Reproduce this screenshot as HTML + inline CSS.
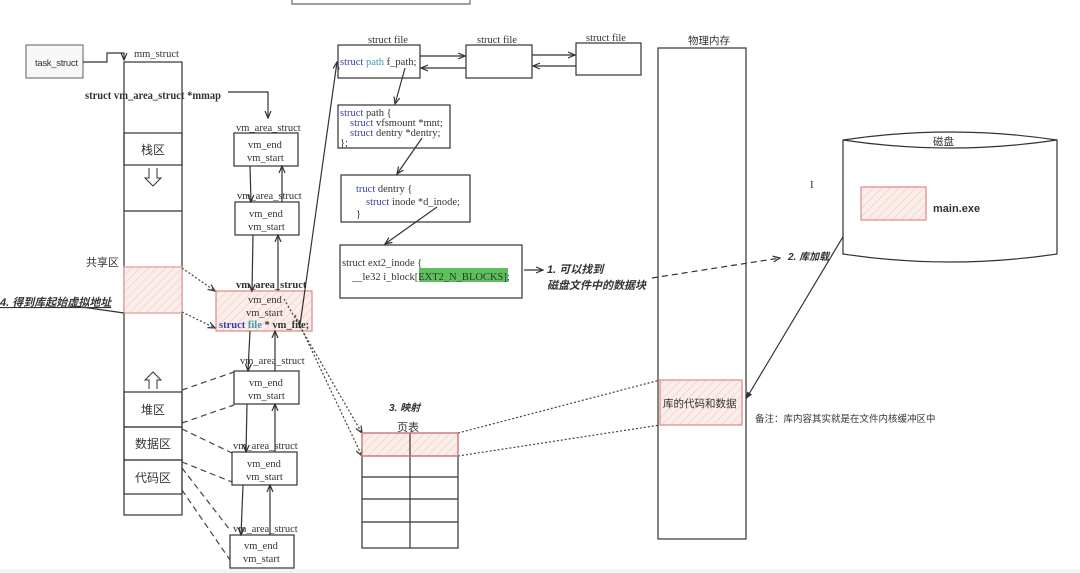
<!DOCTYPE html>
<html><head><meta charset="utf-8"><style>
html,body{margin:0;padding:0;background:#fff;width:1080px;height:573px;overflow:hidden}
svg text{font-family:"Liberation Serif","Noto Serif CJK SC",serif;fill:#333}
.cn{font-family:"Liberation Sans","Noto Sans CJK SC",sans-serif}
.kw{fill:#3b3fa8}
.ty{fill:#3a9bb0}
</style></head><body>
<svg width="1080" height="573" viewBox="0 0 1080 573" xmlns="http://www.w3.org/2000/svg">
<defs>
<pattern id="h" width="6" height="6" patternUnits="userSpaceOnUse" patternTransform="rotate(45)">
<rect width="6" height="6" fill="#fbeeea"/><line x1="0" y1="0" x2="0" y2="6" stroke="#f3d6d0" stroke-width="2"/></pattern>
<marker id="a" markerWidth="8" markerHeight="8" refX="7" refY="4" orient="auto" markerUnits="userSpaceOnUse"><path d="M0,1 L7,4 L0,7" fill="none" stroke="#333" stroke-width="1.2"/></marker>
<marker id="af" markerWidth="8" markerHeight="8" refX="7" refY="4" orient="auto" markerUnits="userSpaceOnUse"><path d="M0,1 L7,4 L0,7z" fill="#333"/></marker>
</defs>
<rect x="0" y="569" width="1080" height="4" fill="#f3f3f3"/>
<path d="M292,0 L292,4 L470,4 L470,0" fill="none" stroke="#666" stroke-width="1.2"/>
<g fill="none" stroke="#333" stroke-width="1.2">
<rect x="26" y="45" width="57" height="33" fill="#f7f7f7" stroke="#777"/>
<path d="M83,62 L107,62 L107,53 L124,53 L124,60" marker-end="url(#a)"/>
<rect x="124" y="62" width="58" height="453"/>
<rect x="124" y="133" width="58" height="32"/>
<line x1="124" y1="211" x2="182" y2="211"/>
<rect x="124" y="267" width="58" height="46" fill="url(#h)" stroke="#d99"/>
<rect x="124" y="392" width="58" height="35"/>
<rect x="124" y="427" width="58" height="33"/>
<rect x="124" y="460" width="58" height="34"/>
<path d="M149,168 L149,178 L145,178 L153,186 L161,178 L157,178 L157,168" stroke-width="1"/>
<path d="M149,389 L149,380 L145,380 L153,372 L161,380 L157,380 L157,389" stroke-width="1"/>
<path d="M228,92 L268,92 L268,118" marker-end="url(#a)"/>
<rect x="234" y="133" width="64" height="33"/>
<rect x="235" y="202" width="64" height="33"/>
<rect x="216" y="291" width="96" height="40" fill="url(#h)" stroke="#d88"/>
<rect x="234" y="371" width="65" height="33"/>
<rect x="232" y="452" width="65" height="33"/>
<rect x="230" y="535" width="64" height="33"/>
<line x1="250" y1="166" x2="251" y2="202" marker-end="url(#a)"/><line x1="282" y1="202" x2="282" y2="166" marker-end="url(#a)"/>
<line x1="253" y1="235" x2="252" y2="291" marker-end="url(#a)"/><line x1="278" y1="291" x2="278" y2="235" marker-end="url(#a)"/>
<line x1="250" y1="331" x2="248" y2="371" marker-end="url(#a)"/><line x1="275" y1="371" x2="275" y2="331" marker-end="url(#a)"/>
<line x1="247" y1="404" x2="246" y2="452" marker-end="url(#a)"/><line x1="275" y1="452" x2="275" y2="404" marker-end="url(#a)"/>
<line x1="243" y1="485" x2="241" y2="535" marker-end="url(#a)"/><line x1="270" y1="535" x2="270" y2="485" marker-end="url(#a)"/>
<g stroke-dasharray="6,4" stroke="#444">
<line x1="182" y1="390" x2="234" y2="372"/>
<line x1="182" y1="423" x2="234" y2="405"/>
<line x1="182" y1="429" x2="232" y2="453"/>
<line x1="182" y1="462" x2="232" y2="482"/>
<line x1="182" y1="468" x2="230" y2="530"/>
<line x1="182" y1="490" x2="230" y2="560"/>
</g>
<g stroke-dasharray="2,2" stroke="#444">
<line x1="182" y1="268" x2="215" y2="291" marker-end="url(#a)"/>
<line x1="182" y1="312" x2="215" y2="328" marker-end="url(#a)"/>
<line x1="284" y1="299" x2="362" y2="433" marker-end="url(#a)"/>
<line x1="295" y1="315" x2="362" y2="456" marker-end="url(#a)"/>
<line x1="458" y1="433" x2="660" y2="380"/>
<line x1="458" y1="456" x2="660" y2="425"/>
</g>
<line x1="124" y1="313" x2="75" y2="306"/>
<line x1="300" y1="325" x2="337" y2="62" marker-end="url(#a)"/>
<rect x="338" y="45" width="82" height="33"/>
<rect x="466" y="45" width="66" height="33"/>
<rect x="576" y="43" width="65" height="32"/>
<line x1="420" y1="56" x2="465" y2="56" marker-end="url(#a)"/><line x1="466" y1="68" x2="421" y2="68" marker-end="url(#a)"/>
<line x1="532" y1="55" x2="575" y2="55" marker-end="url(#a)"/><line x1="576" y1="66" x2="533" y2="66" marker-end="url(#a)"/>
<rect x="338" y="105" width="112" height="43"/>
<rect x="341" y="175" width="129" height="47"/>
<rect x="340" y="245" width="182" height="53"/>
<line x1="405" y1="68" x2="395" y2="104" marker-end="url(#a)"/>
<line x1="422" y1="138" x2="397" y2="174" marker-end="url(#a)"/>
<line x1="437" y1="207" x2="385" y2="244" marker-end="url(#a)"/>
<line x1="524" y1="270" x2="543" y2="270" marker-end="url(#a)"/>
<rect x="658" y="48" width="88" height="491"/>
<rect x="660" y="380" width="82" height="45" fill="url(#h)" stroke="#d88"/>
<line x1="652" y1="278" x2="780" y2="258" stroke-dasharray="6,4" marker-end="url(#a)"/>
<line x1="862" y1="205" x2="746" y2="399" marker-end="url(#af)"/>
<path d="M843,140 Q950,124 1057,140 L1057,254 Q950,270 843,254 Z" fill="#fff"/>
<path d="M843,140 Q950,156 1057,140"/>
<rect x="861" y="187" width="65" height="33" fill="url(#h)" stroke="#d88"/>
<rect x="362" y="433" width="96" height="23" fill="url(#h)" stroke="#d88"/>
<rect x="362" y="433" width="96" height="115"/>
<line x1="410" y1="433" x2="410" y2="548"/>
<line x1="362" y1="456" x2="458" y2="456"/><line x1="362" y1="477" x2="458" y2="477"/>
<line x1="362" y1="499" x2="458" y2="499"/><line x1="362" y1="522" x2="458" y2="522"/>
<rect x="362" y="433" width="96" height="23" fill="none" stroke="#d88"/>
</g>
<rect x="419" y="268" width="89" height="14" fill="#5cc15a"/>
<g font-size="10.5">
<text x="35" y="66" class="cn" font-size="9.5" fill="#444" textLength="43">task_struct</text>
<text x="134" y="57">mm_struct</text>
<text x="85" y="99" font-weight="bold" font-size="11.5" fill="#222" textLength="136" lengthAdjust="spacingAndGlyphs">struct vm_area_struct *mmap</text>
<text x="141" y="154" class="cn" font-size="12">栈区</text>
<text x="86" y="266" class="cn" font-size="11">共享区</text>
<text x="0" y="306" class="cn" font-size="11" font-weight="bold" font-style="italic" fill="#222" text-decoration="underline">4. 得到库起始虚拟地址</text>
<text x="141" y="414" class="cn" font-size="12">堆区</text>
<text x="135" y="448" class="cn" font-size="12">数据区</text>
<text x="135" y="482" class="cn" font-size="12">代码区</text>
<text x="236" y="131">vm_area_struct</text>
<text x="248" y="148">vm_end</text><text x="247" y="161">vm_start</text>
<text x="237" y="199">vm_area_struct</text>
<text x="249" y="217">vm_end</text><text x="248" y="230">vm_start</text>
<text x="236" y="288" font-weight="bold">vm_area_struct</text>
<text x="248" y="303">vm_end</text><text x="246" y="316">vm_start</text>
<text x="219" y="328" font-weight="bold"><tspan class="kw">struct</tspan> <tspan class="ty">file</tspan> * vm_file;</text>
<text x="240" y="364">vm_area_struct</text>
<text x="249" y="386">vm_end</text><text x="248" y="399">vm_start</text>
<text x="233" y="449">vm_area_struct</text>
<text x="247" y="467">vm_end</text><text x="246" y="480">vm_start</text>
<text x="233" y="532">vm_area_struct</text>
<text x="244" y="549">vm_end</text><text x="243" y="562">vm_start</text>
<text x="368" y="43">struct file</text>
<text x="477" y="43">struct file</text>
<text x="586" y="41">struct file</text>
<text x="340" y="65"><tspan class="kw">struct</tspan> <tspan class="ty">path</tspan> f_path;</text>
<text x="340" y="116"><tspan class="kw">struct</tspan> path {</text>
<text x="350" y="126"><tspan class="kw">struct</tspan> vfsmount *mnt;</text>
<text x="350" y="136"><tspan class="kw">struct</tspan> dentry *dentry;</text>
<text x="340" y="146">};</text>
<text x="356" y="192"><tspan class="kw">truct</tspan> dentry {</text>
<text x="366" y="205"><tspan class="kw">struct</tspan> inode *d_inode;</text>
<text x="356" y="217">}</text>
<text x="342" y="266">struct ext2_inode {</text>
<text x="352" y="280">__le32  i_block[EXT2_N_BLOCKS];</text>
<text x="547" y="273" class="cn" font-weight="bold" font-style="italic" font-size="11" fill="#111">1. 可以找到</text>
<text x="547" y="289" class="cn" font-weight="bold" font-style="italic" font-size="11" fill="#111">磁盘文件中的数据块</text>
<text x="688" y="44" class="cn" font-size="10.5">物理内存</text>
<text x="663" y="407" class="cn" font-size="10.5">库的代码和数据</text>
<text x="755" y="422" class="cn" font-size="9.5">备注：库内容其实就是在文件内核缓冲区中</text>
<text x="933" y="145" class="cn" font-size="10.5">磁盘</text>
<text x="933" y="212" class="cn" font-weight="bold" font-size="11" fill="#111">main.exe</text>
<text x="788" y="260" class="cn" font-weight="bold" font-style="italic" font-size="10" fill="#222">2. 库加载</text>
<text x="810" y="188" font-size="11" fill="#555">I</text>
<text x="389" y="411" class="cn" font-weight="bold" font-style="italic" font-size="10" fill="#222">3. 映射</text>
<text x="397" y="431" class="cn" font-size="11">页表</text>
</g>
</svg>
</body></html>
